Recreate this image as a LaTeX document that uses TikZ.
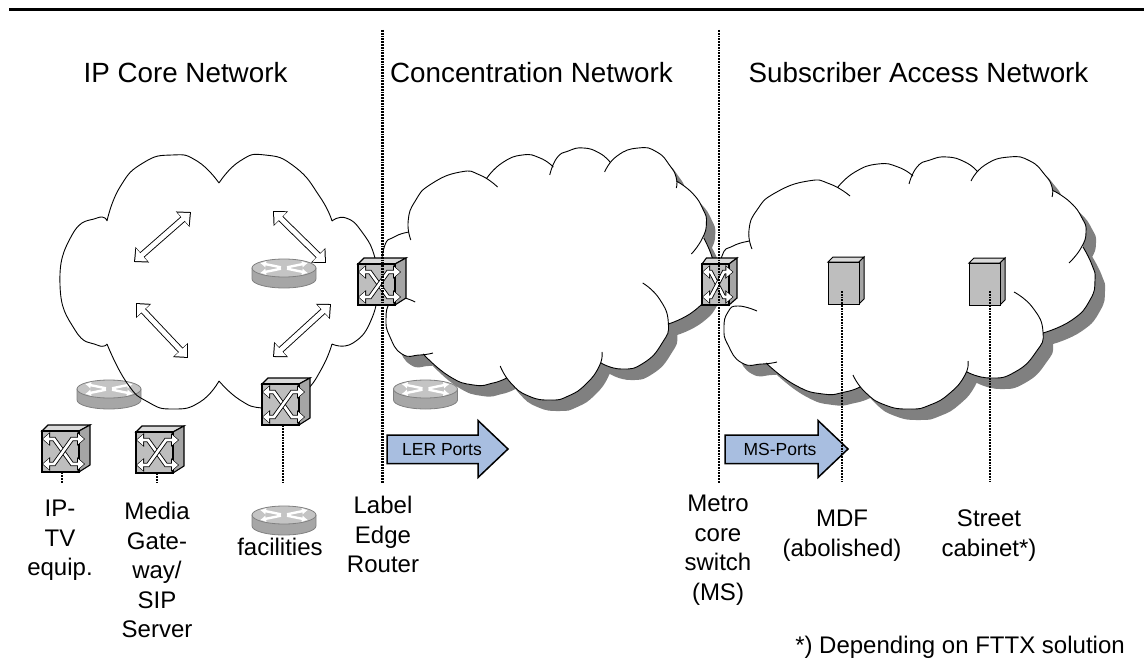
\documentclass[tikz,border=0pt]{standalone}
\usepackage[RGB]{xcolor}
\usepackage{fontspec}
\setmainfont{Liberation Sans}
\usetikzlibrary{arrows.meta,shapes.geometric}
\definecolor{shadowgray}{RGB}{128,128,128}
\definecolor{faceS}{RGB}{190,190,190}
\definecolor{topS}{RGB}{218,218,218}
\definecolor{sideS}{RGB}{165,165,165}
\definecolor{routerT}{RGB}{196,196,196}
\definecolor{routerS}{RGB}{166,166,166}
\definecolor{portblue}{RGB}{168,190,224}
\tikzset{
  titletext/.style={anchor=base,font=\fontsize{27.8}{30}\selectfont},
  labeltext/.style={anchor=north,align=center,inner sep=0pt,font=\fontsize{24}{29.5}\selectfont},
  porttext/.style={anchor=base,inner sep=0pt,font=\fontsize{17.5}{20}\selectfont},
  dropline/.style={line width=2.5pt,dash pattern=on 1.8pt off 1pt},
  lobeline/.style={line width=.9pt},
  porthead/.style={draw,line width=1.5pt,fill=portblue,miter limit=10},
  widecase/.style={line width=6.6pt,{Triangle[width=20pt,length=11pt]}-{Triangle[width=20pt,length=11pt]}},
  widecore/.style={white,line width=4.8pt,shorten <=1.5pt,shorten >=1.5pt,{Triangle[width=16.5pt,length=9pt]}-{Triangle[width=16.5pt,length=9pt]}},
  xcase/.style={line width=4.4pt,{Triangle[width=13pt,length=8pt]}-{Triangle[width=13pt,length=8pt]}},
  xcore/.style={white,line width=2.7pt,shorten <=1pt,shorten >=1pt,{Triangle[width=10pt,length=6pt]}-{Triangle[width=10pt,length=6pt]}}
}
\newcommand{\cloudlobes}{
  plot[smooth,tension=.9] coordinates {(718,285)(722,256)(733,246)(750,241)}
  plot[smooth,tension=.9] coordinates {(752,249)(749,230)(757,210)(775,193)(808,181)(830,184)(850,196)}
  plot[smooth,tension=.9] coordinates {(838,187)(855,172)(878,164)(898,167)(913,176)}
  plot[smooth,tension=.9] coordinates {(909,184)(917,167)(930,160)(947,157)(965,162)(977,171)}
  plot[smooth,tension=.9] coordinates {(971,181)(985,165)(1009,157)(1030,161)(1045,175)(1052,187)(1052,197)}
  plot[smooth,tension=.9] coordinates {(1052,190)(1070,202)(1082,218)(1086,232)(1081,248)(1069,263)}
  plot[smooth,tension=.9] coordinates {(1083,247)(1092,265)(1095,280)(1090,300)(1072,320)(1043,333)}
  plot[smooth,tension=.9] coordinates {(1014,292)(1033,308)(1043,332)(1036,352)(1015,372)(990,378)(967,372)}
  plot[smooth,tension=.9] coordinates {(968,361)(965,375)(950,393)(930,405)(910,409)(885,405)(865,392)(853,375)}
  plot[smooth,tension=.9] coordinates {(860,387)(845,392)(823,394)(795,385)(766,363)}
  plot[smooth,tension=.9] coordinates {(777,362)(762,364)(742,363)(728,345)(724,328)(728,312)(738,306)(757,311)}
}
\newcommand{\cloudcore}{
  (750,241)--(838,187)--(913,176)--(977,171)--(1052,190)--(1083,247)--(1043,333)--(967,372)--(860,387)--(766,363)--(730,330)--(722,260)--cycle
}
\newcommand{\drawcloud}{
  \fill[shadowgray,xshift=10pt,yshift=-11pt] \cloudlobes \cloudcore;
  \fill[white] \cloudlobes \cloudcore;
  \draw[lobeline] \cloudlobes;
}
\newcommand{\drawswitch}[4]{
  \begin{scope}[shift={(#2,#3)},xscale=#4]
    \filldraw[fill=topS,line width=1.1pt] (0,6)--(6,0)--(48,0)--(37,6)--cycle;
    \filldraw[fill=sideS,line width=1.1pt] (37,6)--(48,0)--(48,40)--(37,47)--cycle;
    \node[draw,fill=faceS,line width=1.2pt,inner sep=0pt,minimum width=#4*37pt,minimum height=41pt] (#1) at (18.5,26.5) {};
    \foreach \a/\b in {14/39,39/14}{
      \draw[xcase] (0,\a)--(12,\a)--(30,\b)--(43,\b);
      \draw[xcore] (0,\a)--(12,\a)--(30,\b)--(43,\b);
    }
  \end{scope}
}
\newcommand{\drawbox}[3]{
  \begin{scope}[shift={(#2,#3)}]
    \filldraw[fill=topS,line width=1pt] (0,5)--(5,0)--(36,0)--(31,5)--cycle;
    \filldraw[fill=sideS,line width=1pt] (31,5)--(36,0)--(36,42)--(31,47)--cycle;
    \node[draw,fill=faceS,line width=1pt,inner sep=0pt,minimum width=31pt,minimum height=42pt] (#1) at (15.5,26) {};
  \end{scope}
}
\newcommand{\drawrouter}[3]{
  \begin{scope}[shift={(#2,#3)}]
    \filldraw[fill=routerS,draw=shadowgray,line width=.8pt] (-32,9)--(-32,20) arc[start angle=180,end angle=360,x radius=32pt,y radius=9pt]--(32,9)--cycle;
    \node[ellipse,draw=shadowgray,fill=routerT,line width=.8pt,inner sep=0pt,minimum width=64pt,minimum height=18pt] (#1) at (0,9) {};
    \foreach \sx in {-1,1}{
      \foreach \sy in {-1,1}{
        \draw[white,line width=2.4pt,-{Latex[width=7pt,length=6pt]}] ({\sx*3},{9+\sy*.7})--({\sx*24},{9+\sy*5});
      }
    }
  \end{scope}
}
\newcommand{\drawwidearrow}[2]{
  \draw[widecase] (#1)--(#2);
  \draw[widecore] (#1)--(#2);
}
\newcommand{\drawport}[3]{
  \draw[porthead] (#1,435)--(#2-30,435)--(#2-30,420.5)--(#2,#3)--(#2-30,477.5)--(#2-30,463.5)--(#1,463.5)--cycle;
}
\begin{document}
\begin{tikzpicture}[x=1pt,y=-1pt]
\useasboundingbox (0,0) rectangle (1144,658);
\coordinate (rulestart) at (9,10);
\coordinate (ruleend) at (1144,10);
\draw[line width=3pt] (rulestart)--(ruleend);
\node[titletext] (coretitle) at (185.5,83) {IP Core Network};
\node[titletext] (conctitle) at (531.5,83) {Concentration Network};
\node[titletext] (subtitle) at (918.5,83) {Subscriber Access Network};
\begin{scope}[xshift=-254.7pt,yshift=9pt,xscale=.885]
  \drawcloud
\end{scope}
\drawcloud
\drawrouter{edgerouter}{425.5}{380}
\drawrouter{corerouterA}{109}{380}
\drawrouter{corerouterB}{284}{259}
\drawrouter{facrouter}{284}{506}
\draw[lobeline]
  plot[smooth,tension=.9] coordinates {(107,221)(120,187)(143,163)(172,155)(197,161)(219,183)}
  plot[smooth,tension=.9] coordinates {(219,183)(240,161)(265,155)(295,167)(320,197)(332,221)}
  plot[smooth,tension=.9] coordinates {(332,221)(346,218)(362,232)(375,258)(377,285)(372,318)(353,343)(332,344)}
  plot[smooth,tension=.9] coordinates {(332,344)(322,368)(305,392)(285,405)(262,408)(240,400)(219,381)}
  plot[smooth,tension=.9] coordinates {(219,381)(200,402)(173,409)(148,402)(127,383)(107,344)}
  plot[smooth,tension=.9] coordinates {(107,344)(97,345)(75,330)(60,285)(72,235)(97,218)(107,221)};
\drawwidearrow{134,262}{191,212}
\drawwidearrow{273,211}{326,263}
\drawwidearrow{136,303}{188,358}
\drawwidearrow{331,304}{273,357}
\drawswitch{iptvswitch}{42}{425}{1}
\drawswitch{gateswitch}{136}{426}{1}
\drawswitch{facswitch}{262}{378}{1}
\drawswitch{edgeswitch}{358}{258}{1}
\drawswitch{metroswitch}{702}{258}{.73}
\drawbox{mdfbox}{828}{257}
\drawbox{cabinetbox}{969}{258}
\drawport{387}{508}{449}
\drawport{725}{848}{449}
\node[porttext] (lerports) at (442,455) {LER Ports};
\node[porttext] (msports) at (780,455) {MS-Ports};
\coordinate (coresplit) at (382.5,30);
\coordinate (coresplitend) at (382.5,483);
\coordinate (accesssplit) at (719,30);
\coordinate (accesssplitend) at (719,483);
\coordinate (iptvend) at (62,483);
\coordinate (gateend) at (157,483);
\coordinate (facend) at (283,482);
\coordinate (mdftop) at (842,291);
\coordinate (mdfend) at (842,482);
\coordinate (cabinettop) at (990,291);
\coordinate (cabinetend) at (990,482);
\draw[dropline] (coresplit)--(coresplitend);
\draw[dropline] (accesssplit)--(accesssplitend);
\draw[dropline] (iptvswitch.south -| iptvend)--(iptvend);
\draw[dropline] (gateswitch.south -| gateend)--(gateend);
\draw[dropline] (facswitch.south -| facend)--(facend);
\draw[dropline] (mdftop)--(mdfend);
\draw[dropline] (cabinettop)--(cabinetend);
\node[labeltext] (iptvlabel) at (60,500) {IP-\\TV\\equip.};
\node[labeltext] (gatelabel) at (157,502) {Media\\Gate-\\way/\\SIP\\Server};
\node[labeltext] (faclabel) at (280,537.5) {facilities};
\node[labeltext] (edgelabel) at (383,496) {Label\\Edge\\Router};
\node[labeltext] (metrolabel) at (718,495) {Metro\\core\\switch\\(MS)};
\node[labeltext] (mdflabel) at (842,510) {MDF\\(abolished)};
\node[labeltext] (cabinetlabel) at (989,510) {Street\\cabinet*)};
\node[labeltext,anchor=base] (fttxnote) at (960,653) {*) Depending on FTTX solution};
\end{tikzpicture}
\end{document}
